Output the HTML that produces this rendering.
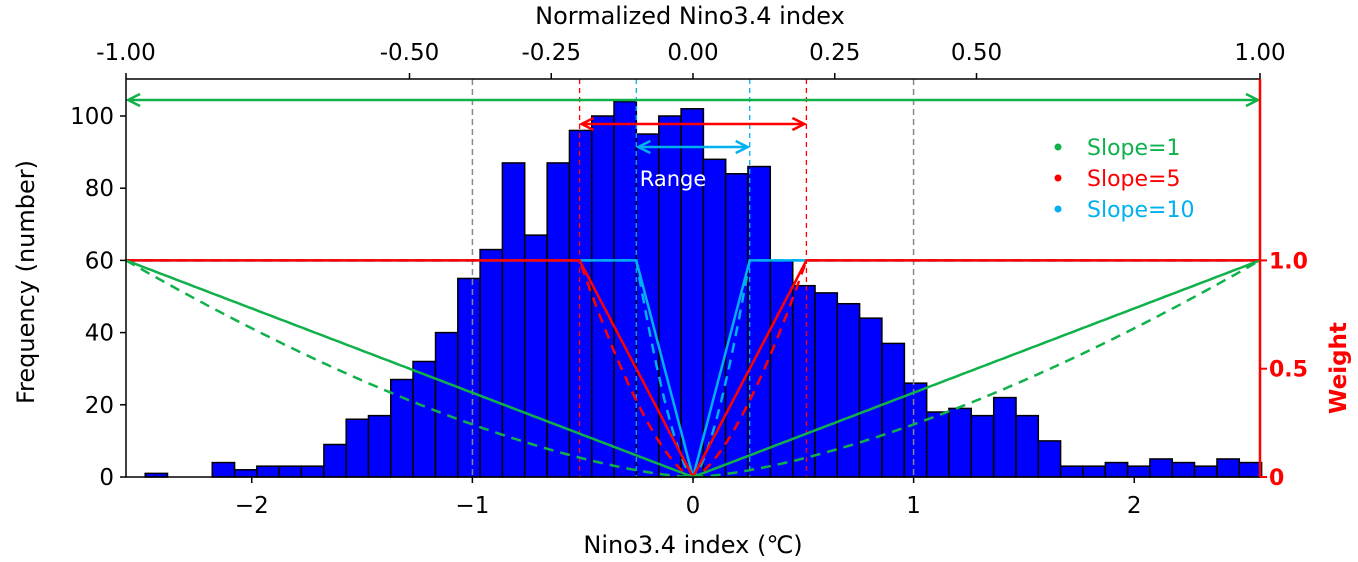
<!DOCTYPE html>
<html><head><meta charset="utf-8"><style>
html,body{margin:0;padding:0;background:#fff;}
svg{display:block;font-family:"DejaVu Sans","Liberation Sans",sans-serif;}
</style></head><body>
<svg id="chart" width="1358" height="562" viewBox="0 0 1358 562" xmlns="http://www.w3.org/2000/svg"></svg>
<script>
const binLefts = [-2.483,-2.382,-2.281,-2.179,-2.078,-1.977,-1.876,-1.775,-1.673,-1.572,-1.471,-1.370,-1.269,-1.167,-1.066,-0.965,-0.864,-0.763,-0.661,-0.560,-0.459,-0.358,-0.257,-0.155,-0.054,0.047,0.148,0.249,0.351,0.452,0.553,0.654,0.755,0.857,0.958,1.059,1.160,1.261,1.363,1.464,1.565,1.666,1.767,1.869,1.970,2.071,2.172,2.273,2.375,2.476];
const counts = [1,0,0,4,2,3,3,3,9,16,17,27,32,40,55,63,87,67,87,96,100,104,95,100,102,88,84,86,60,53,51,48,44,37,26,18,19,17,22,17,10,3,3,4,3,5,4,3,5,4];
const binWidth = 0.1012;
const xTicks = [-2,-1,0,1,2];
const xTickLabels = ["\u22122","\u22121","0","1","2"];
const yTicks = [0,20,40,60,80,100];
const topTicks = [-1,-0.5,-0.25,0,0.25,0.5,1];
const topTickLabels = ["-1.00","-0.50","-0.25","0.00","0.25","0.50","1.00"];
const wTicks = [0,0.5,1];
const wTickLabels = ["0","0.5","1.0"];
const slopes = [1,5,10];
const slopeColors = ["#10b14b","#ff0000","#00b0f0"];
const xMax = 2.57;

const L=126,R=1260,T=79,B=477;
const X = v => 693 + v*(R-L)/(2*xMax);
const Y = v => B - v*(B-116)/100;
const W = w => B - w*(B-Y(60));
const NX = n => X(n*xMax);
const NS='http://www.w3.org/2000/svg';
const svg=document.getElementById('chart');
function el(tag,attrs,parent){const e=document.createElementNS(NS,tag);for(const k in attrs)e.setAttribute(k,attrs[k]);(parent||svg).appendChild(e);return e;}
function txt(s,attrs,parent){const e=el('text',attrs,parent);e.textContent=s;return e;}

const bars=el('g',{});


binLefts.forEach((b,i)=>{ if(!counts[i])return;
  const r=el('rect',{x:X(b),y:Y(counts[i]),width:X(b+binWidth)-X(b),height:B-Y(counts[i]),fill:'#0000ff',stroke:'#000','stroke-width':1.5},bars);
  
  
});

[[-0.389,'#888'],[0.389,'#888']].forEach(([n,c])=>{const l=el('line',{x1:NX(n),x2:NX(n),y1:T,y2:B,stroke:c,'stroke-width':1.5,'stroke-dasharray':'6,4'});});
[[0.2,'#ff0000'],[0.1,'#00b0f0']].forEach(([n,c])=>{[-n,n].forEach(v=>{const l=el('line',{x1:NX(v),x2:NX(v),y1:T,y2:B,stroke:c,'stroke-width':1.3,'stroke-dasharray':'5,4'});});});

const lines=el('g',{fill:'none'});


[2,1,0].forEach(i=>{
  const s=slopes[i], c=slopeColors[i];
  let ps=[],pd=[];
  for(let k=-200;k<=200;k++){const n=k/200;const w=Math.min(1,s*Math.abs(n));const wd=Math.min(1,Math.pow(s*Math.abs(n),1.5));
    ps.push(NX(n).toFixed(1)+','+W(w).toFixed(1));pd.push(NX(n).toFixed(1)+','+W(wd).toFixed(1));}
  const a=el('polyline',{points:pd.join(' '),stroke:c,'stroke-width':2.5,'stroke-dasharray':'10,7'},lines);
  
  const b=el('polyline',{points:ps.join(' '),stroke:c,'stroke-width':2.5},lines);
  
});

function arrow(n,y,c,name){const x1=NX(-n)+2,x2=NX(n)-2;const g=el('g',{stroke:c,'stroke-width':2.5,fill:'none'});
  
  el('line',{x1:x1,x2:x2,y1:y,y2:y},g);
  el('polyline',{points:`${x1+12},${y-6} ${x1},${y} ${x1+12},${y+6}`},g);
  el('polyline',{points:`${x2-12},${y-6} ${x2},${y} ${x2-12},${y+6}`},g);}
arrow(1,100,'#10b14b','range-arrow-slope-1');
arrow(0.2,124,'#ff0000','range-arrow-slope-5');
arrow(0.1,147,'#00b0f0','range-arrow-slope-10');
const rg=txt('Range',{x:673,y:186,'font-size':21,fill:'#fff','text-anchor':'middle'});


const fr=el('path',{d:`M${R},${T} L${L},${T} L${L},${B} L${R},${B}`,fill:'none',stroke:'#000','stroke-width':1.5});

const ra=el('line',{x1:R,x2:R,y1:T,y2:B,stroke:'#ff0000','stroke-width':2.5});


xTicks.forEach((t,i)=>{el('line',{x1:X(t),x2:X(t),y1:B,y2:B+6,stroke:'#000','stroke-width':1.5});
  const e=txt(xTickLabels[i],{x:X(t),y:B+36,'font-size':23,'text-anchor':'middle'});});
yTicks.forEach(t=>{el('line',{x1:L-6,x2:L,y1:Y(t),y2:Y(t),stroke:'#000','stroke-width':1.5});
  const e=txt(String(t),{x:L-12,y:Y(t)+8,'font-size':23,'text-anchor':'end'});});
topTicks.forEach((t,i)=>{el('line',{x1:NX(t),x2:NX(t),y1:T,y2:T-6,stroke:'#000','stroke-width':1.5});
  const e=txt(topTickLabels[i],{x:NX(t),y:T-19,'font-size':23,'text-anchor':'middle'});});
wTicks.forEach((t,i)=>{el('line',{x1:R,x2:R+7,y1:W(t),y2:W(t),stroke:'#ff0000','stroke-width':2});
  const e=txt(wTickLabels[i],{x:R+9,y:W(t)+8,'font-size':22,'font-weight':'bold',fill:'#ff0000'});});

let e;
e=txt('Normalized Nino3.4 index',{x:690,y:24,'font-size':24,'text-anchor':'middle'});
e=txt('Nino3.4 index (\u2103)',{x:693,y:553,'font-size':24,'text-anchor':'middle'});
e=txt('Frequency (number)',{x:0,y:0,'font-size':24,'text-anchor':'middle',transform:'translate(34,282) rotate(-90)'});
e=txt('Weight',{x:0,y:0,'font-size':23,'font-weight':'bold',fill:'#ff0000','text-anchor':'middle',transform:'translate(1346,368) rotate(-90)'});

slopes.forEach((s,i)=>{const y=147+i*31;
  const g=el('g',{});
  el('circle',{cx:1058,cy:y,r:3.5,fill:slopeColors[i]},g);
  txt('Slope='+s,{x:1087,y:y+8,'font-size':22,fill:slopeColors[i]},g);});
</script>
</body></html>
